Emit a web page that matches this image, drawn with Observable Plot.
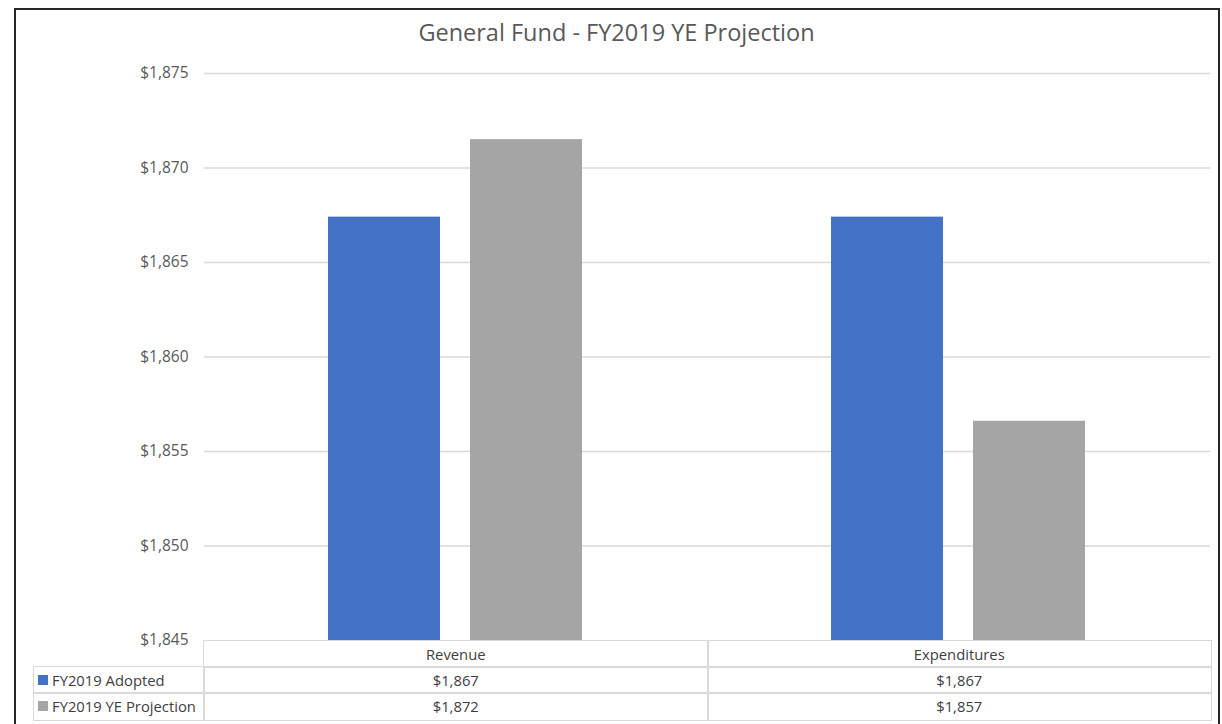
<!DOCTYPE html>
<html>
<head>
<meta charset="utf-8">
<script src="https://cdn.jsdelivr.net/npm/d3@7"></script>
<script src="https://cdn.jsdelivr.net/npm/@observablehq/plot@0.6"></script>
<style>
  html, body { margin: 0; padding: 0; background: #fff; width: 1222px; height: 724px; overflow: hidden; }
  #frame { position: absolute; left: 14px; top: 8px; width: 1206px; height: 740px; border: 2px solid #262626; box-sizing: border-box; }
  #title { position: absolute; left: 14px; top: 16px; width: 1205px; text-align: center; font-family: "Open Sans", sans-serif; font-size: 23.5px; color: #595959; }
  #chart { position: absolute; left: 0; top: 0; }
  .cell { position: absolute; box-sizing: border-box; font-family: "Open Sans", sans-serif; font-size: 14.8px; color: #404040; display: flex; align-items: center; white-space: nowrap; }
  .bordered { border: 1.5px solid #d9d9d9; }
  .key { display: inline-block; width: 10px; height: 10px; margin-right: 4px; margin-left: 4px; }
</style>
</head>
<body>
<div id="frame"></div>
<div id="title"></div>
<div id="chart"></div>
<div id="table"></div>
<script>
const title = "General Fund - FY2019 YE Projection";
const categories = ["Revenue", "Expenditures"];
const series = ["FY2019 Adopted", "FY2019 YE Projection"];
const adopted = [1867.4, 1867.4];
const projection = [1871.5, 1856.6];
const seriesColors = ["#4472C4", "#A5A5A5"];
const yTicks = [1845, 1850, 1855, 1860, 1865, 1870, 1875];

const seriesValues = [adopted, projection];
const data = categories.flatMap((c, i) =>
  series.map((s, j) => ({category: c, series: s, value: seriesValues[j][i]}))
);
const money = d => "$" + d3.format(",")(Math.round(d));

document.getElementById("title").textContent = title;

const chart = Plot.plot({
  width: 1222,
  height: 662,
  marginLeft: 203,
  marginRight: 12,
  marginTop: 73,
  marginBottom: 22,
  style: {background: "transparent", fontFamily: "Open Sans, sans-serif", fontSize: "15.5px", color: "#595959"},
  fx: {domain: categories, padding: 0, axis: null},
  x: {domain: series, paddingInner: 0.21, paddingOuter: 0.867, axis: null},
  y: {domain: [yTicks[0], yTicks[yTicks.length - 1]], axis: null},
  color: {domain: series, range: seriesColors},
  marks: [
    Plot.ruleY(yTicks.slice(1), {stroke: "#d9d9d9", strokeWidth: 1.5}),
    Plot.axisY(yTicks, {tickSize: 0, tickPadding: 16, tickFormat: money, label: null, fill: "#595959"}),
    Plot.barY(data, {fx: "category", x: "series", y1: yTicks[0], y2: "value", fill: "series"})
  ]
});
document.getElementById("chart").appendChild(chart);

// data table below the plot
const colEdges = [33, 203, 707, 1210];
const rowEdges = [640, 666, 692, 719];
const table = document.getElementById("table");
function cell(x0, x1, y0, y1, bordered, content, center) {
  const d = document.createElement("div");
  d.className = "cell" + (bordered ? " bordered" : "");
  d.style.left = x0 + "px"; d.style.top = y0 + "px";
  d.style.width = (x1 - x0 + 1.5) + "px"; d.style.height = (y1 - y0 + 1.5) + "px";
  if (center) d.style.justifyContent = "center";
  if (typeof content === "string") d.textContent = content; else d.appendChild(content);
  table.appendChild(d);
}
categories.forEach((c, i) => cell(colEdges[i + 1], colEdges[i + 2], rowEdges[0], rowEdges[1], true, c, true));
series.forEach((s, j) => {
  const frag = document.createElement("span");
  frag.style.display = "flex"; frag.style.alignItems = "center";
  const key = document.createElement("span");
  key.className = "key"; key.style.background = seriesColors[j];
  frag.appendChild(key);
  frag.appendChild(document.createTextNode(s));
  cell(colEdges[0], colEdges[1], rowEdges[j + 1], rowEdges[j + 2], true, frag, false);
  categories.forEach((c, i) => cell(colEdges[i + 1], colEdges[i + 2], rowEdges[j + 1], rowEdges[j + 2], true, money(seriesValues[j][i]), true));
});
</script>
</body>
</html>
